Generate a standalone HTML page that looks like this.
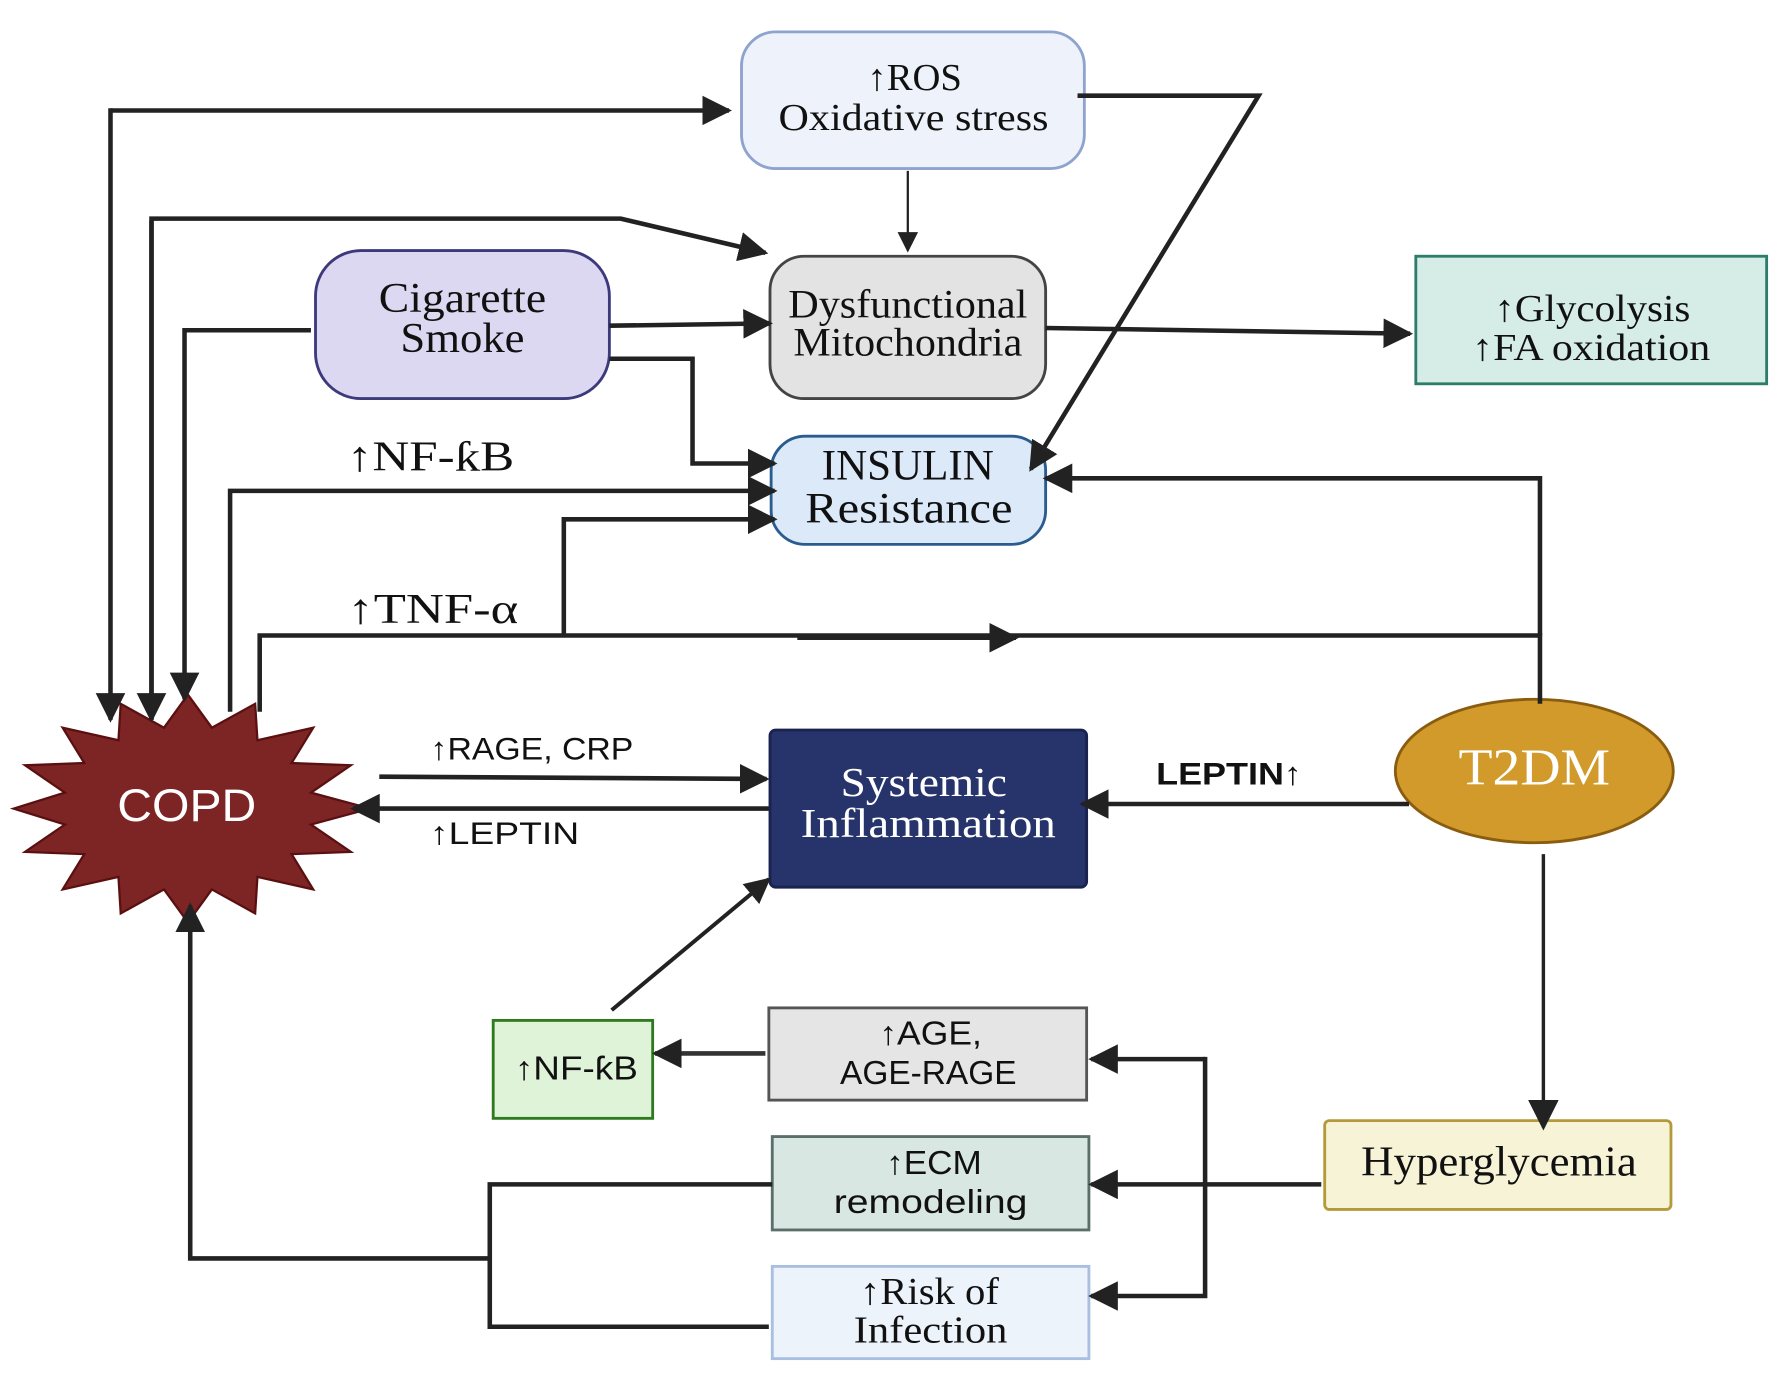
<!DOCTYPE html>
<html><head><meta charset="utf-8"><style>html,body{margin:0;padding:0;background:#fff}svg{display:block}</style></head>
<body>
<svg width="1786" height="1378" viewBox="0 0 1568 1210" preserveAspectRatio="none" xmlns="http://www.w3.org/2000/svg">
<defs>
<marker id="a" viewBox="0 0 10 10" refX="9" refY="5" markerWidth="6.5" markerHeight="6.5" orient="auto" markerUnits="strokeWidth"><path d="M0,0 L10,5 L0,10 z" fill="#222"/></marker>
<marker id="b" viewBox="0 0 10 10" refX="9" refY="5" markerWidth="9" markerHeight="9" orient="auto" markerUnits="strokeWidth"><path d="M0,0 L10,5 L0,10 z" fill="#222"/></marker>
</defs>
<!-- nodes -->
<rect x="651" y="28" width="301" height="120" rx="30" fill="#eef3fb" stroke="#8fa3cf" stroke-width="2.5"/>
<rect x="676" y="225" width="242" height="125" rx="30" fill="#e3e3e3" stroke="#444" stroke-width="2.5"/>
<rect x="277" y="220" width="258" height="130" rx="40" fill="#dcd8f2" stroke="#3c3a7a" stroke-width="2.5"/>
<rect x="1243" y="225" width="308" height="112" fill="#d5ede6" stroke="#2e7d6a" stroke-width="2.5"/>
<rect x="677" y="383" width="241" height="95" rx="30" fill="#dbe9f8" stroke="#2b5c8f" stroke-width="2.5"/>
<rect x="676" y="641" width="278" height="138" rx="5" fill="#26346b" stroke="#1a2350" stroke-width="2.5"/>
<ellipse cx="1347" cy="677" rx="122" ry="63" fill="#d19a2a" stroke="#8a5c10" stroke-width="2.5"/>
<polygon points="325,710 273,724 308,748 256,750 275,781 226,770 224,802 186,781 165,810 144,781 106,802 104,770 55,781 74,750 22,748 57,724 12,710 57,696 22,672 74,670 55,639 104,650 106,618 144,639 165,610 186,639 224,618 226,650 275,639 256,670 308,672 273,696" fill="#7d2525" stroke="#5a1010" stroke-width="2"/>
<rect x="433" y="896" width="140" height="86" fill="#dff3d8" stroke="#2f7a1f" stroke-width="2.5"/>
<rect x="675" y="885" width="279" height="81" fill="#e5e5e5" stroke="#555" stroke-width="2.5"/>
<rect x="678" y="998" width="278" height="82" fill="#d9e7e3" stroke="#5b6f6a" stroke-width="2.5"/>
<rect x="678" y="1112" width="278" height="81" fill="#edf3fb" stroke="#a9bfe0" stroke-width="2.5"/>
<rect x="1163" y="984" width="304" height="78" rx="4" fill="#f6f3d6" stroke="#b39a3a" stroke-width="2.5"/>
<g fill="none" stroke="#222" stroke-width="4">
<polyline points="97,97 640,97" marker-end="url(#a)"/>
<line x1="97" y1="95" x2="97" y2="632" marker-end="url(#a)"/>
<polyline points="133,632 133,192 545,192 672,222" marker-end="url(#a)"/>
<line x1="133" y1="194" x2="133" y2="632" marker-end="url(#a)"/>
<polyline points="273,290 162,290 162,614" marker-end="url(#a)"/>
<polyline points="202,625 202,431 680,431" marker-end="url(#a)"/>
<polyline points="228,625 228,558 1352,558 1352,618"/>
<line x1="700" y1="560" x2="892" y2="560" marker-end="url(#a)"/>
<polyline points="495,558 495,456 680,456" marker-end="url(#a)"/>
<line x1="535" y1="286" x2="676" y2="284" marker-end="url(#a)"/>
<polyline points="535,315 608,315 608,407 680,407" marker-end="url(#a)"/>
<polyline points="946,84 1105,84 905,412" marker-end="url(#a)"/>
<line x1="797" y1="150" x2="797" y2="220" stroke-width="2" marker-end="url(#b)"/>
<line x1="918" y1="288" x2="1238" y2="293" marker-end="url(#a)"/>
<polyline points="1352,558 1352,420 918,420" marker-end="url(#a)"/>
<line x1="333" y1="682" x2="673" y2="684" marker-end="url(#a)"/>
<line x1="675" y1="710" x2="310" y2="710" marker-end="url(#a)"/>
<line x1="1237" y1="706" x2="950" y2="706" marker-end="url(#a)"/>
<line x1="537" y1="887" x2="675" y2="772" stroke-width="3.5" marker-end="url(#a)"/>
<line x1="672" y1="925" x2="575" y2="925" stroke="#333" marker-end="url(#a)"/>
<line x1="1355" y1="750" x2="1355" y2="990" stroke-width="3" marker-end="url(#b)"/>
<line x1="1160" y1="1040" x2="958" y2="1040" marker-end="url(#a)"/>
<polyline points="1058,930 958,930" marker-end="url(#a)"/>
<polyline points="1058,928 1058,1138 958,1138" marker-end="url(#a)"/>
<polyline points="678,1040 430,1040 430,1165 675,1165"/>
<polyline points="430,1105 167,1105 167,795" marker-end="url(#a)"/>
</g>
<!-- text -->
<g font-family="'Liberation Serif', serif" fill="#111" text-anchor="middle" lengthAdjust="spacingAndGlyphs">
<text x="803" y="79" font-size="33" textLength="83" lengthAdjust="spacingAndGlyphs">↑ROS</text>
<text x="802" y="114" font-size="33" textLength="237" lengthAdjust="spacingAndGlyphs">Oxidative stress</text>
<text x="797" y="279" font-size="35" textLength="210" lengthAdjust="spacingAndGlyphs">Dysfunctional</text>
<text x="797" y="312" font-size="35" textLength="201" lengthAdjust="spacingAndGlyphs">Mitochondria</text>
<text x="406" y="274" font-size="37" textLength="147" lengthAdjust="spacingAndGlyphs">Cigarette</text>
<text x="406" y="309" font-size="37" textLength="109" lengthAdjust="spacingAndGlyphs">Smoke</text>
<text x="1398" y="282" font-size="33" textLength="172" lengthAdjust="spacingAndGlyphs">↑Glycolysis</text>
<text x="1397" y="316" font-size="33" textLength="209" lengthAdjust="spacingAndGlyphs">↑FA oxidation</text>
<text x="797" y="421" font-size="38" textLength="151" lengthAdjust="spacingAndGlyphs">INSULIN</text>
<text x="798" y="459" font-size="38" textLength="182" lengthAdjust="spacingAndGlyphs">Resistance</text>
<text x="811" y="699" font-size="36" fill="#fff" textLength="146" lengthAdjust="spacingAndGlyphs">Systemic</text>
<text x="815" y="735" font-size="36" fill="#fff" textLength="224" lengthAdjust="spacingAndGlyphs">Inflammation</text>
<text x="1347" y="689" font-size="46" fill="#fff" textLength="133" lengthAdjust="spacingAndGlyphs">T2DM</text>
<text x="816" y="1145" font-size="33" textLength="122" lengthAdjust="spacingAndGlyphs">↑Risk of</text>
<text x="817" y="1179" font-size="33" textLength="135" lengthAdjust="spacingAndGlyphs">Infection</text>
<text x="1316" y="1032" font-size="37" textLength="242" lengthAdjust="spacingAndGlyphs">Hyperglycemia</text>
<text x="378" y="413" font-size="37" textLength="147" lengthAdjust="spacingAndGlyphs">↑NF-ƙB</text>
<text x="380" y="547" font-size="37" textLength="150" lengthAdjust="spacingAndGlyphs">↑TNF-α</text>
</g>
<g font-family="'Liberation Sans', sans-serif" fill="#111" text-anchor="middle">
<text x="164" y="721" font-size="40" fill="#fff" textLength="122" lengthAdjust="spacingAndGlyphs">COPD</text>
<text x="506" y="948" font-size="29" textLength="108" lengthAdjust="spacingAndGlyphs">↑NF-ƙB</text>
<text x="817" y="917" font-size="29" textLength="90" lengthAdjust="spacingAndGlyphs">↑AGE,</text>
<text x="815" y="952" font-size="29" textLength="155" lengthAdjust="spacingAndGlyphs">AGE-RAGE</text>
<text x="820" y="1031" font-size="29" textLength="84" lengthAdjust="spacingAndGlyphs">↑ECM</text>
<text x="817" y="1065" font-size="29" textLength="170" lengthAdjust="spacingAndGlyphs">remodeling</text>
<text x="467" y="667" font-size="28" textLength="178" lengthAdjust="spacingAndGlyphs">↑RAGE, CRP</text>
<text x="443" y="741" font-size="28" textLength="131" lengthAdjust="spacingAndGlyphs">↑LEPTIN</text>
<text x="1079" y="689" font-size="28" font-weight="bold" textLength="128" lengthAdjust="spacingAndGlyphs">LEPTIN↑</text>
</g>
</svg>
</body></html>
